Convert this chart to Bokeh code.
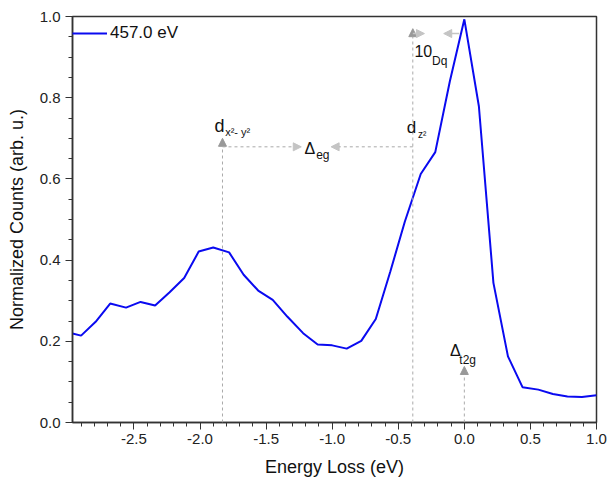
from bokeh.plotting import figure
from bokeh.models import (Range1d, SingleIntervalTicker, PrintfTickFormatter, Label,
                          Arrow, NormalHead, Legend, LegendItem)
from bokeh.embed import file_html
from bokeh.resources import INLINE

# Data
energy_loss = [-2.965, -2.90, -2.79, -2.68, -2.56, -2.45, -2.34, -2.23, -2.12, -2.01,
               -1.90, -1.78, -1.67, -1.56, -1.45, -1.34, -1.22, -1.11, -1.00, -0.89,
               -0.78, -0.67, -0.56, -0.45, -0.33, -0.22, -0.11, 0.00, 0.11, 0.22,
               0.33, 0.44, 0.56, 0.67, 0.78, 0.89, 1.00]
counts = [0.219, 0.214, 0.248, 0.293, 0.283, 0.297, 0.288, 0.321, 0.356, 0.421,
          0.431, 0.419, 0.364, 0.325, 0.302, 0.261, 0.220, 0.192, 0.190, 0.182,
          0.201, 0.255, 0.372, 0.495, 0.612, 0.666, 0.840, 0.993, 0.779, 0.344,
          0.163, 0.087, 0.081, 0.070, 0.064, 0.063, 0.067]
series_label = "457.0 eV"

# marker energies for annotations
e_dx2y2 = -1.83
e_dz2 = -0.39
e_t2g = 0.0

FONT = "Liberation Sans"
DASH_COL = "#aaaaaa"
HEAD_COL = "#999999"
LIGHT_COL = "#c4c4c4"

p = figure(width=607, height=481, output_backend="svg", toolbar_location=None,
           x_range=Range1d(-2.965, 1.0), y_range=Range1d(0.0, 1.0),
           min_border_left=72, min_border_right=11, min_border_top=16, min_border_bottom=59)
p.grid.visible = False
p.background_fill_color = "white"
p.outline_line_color = "#333333"
p.outline_line_width = 1.5

p.xaxis.ticker = SingleIntervalTicker(interval=0.5, num_minor_ticks=5)
p.yaxis.ticker = SingleIntervalTicker(interval=0.2, num_minor_ticks=4)
for ax in (p.xaxis, p.yaxis):
    ax.formatter = PrintfTickFormatter(format="%.1f")
    ax.axis_line_color = "#333333"
    ax.axis_line_width = 1.5
    ax.major_tick_line_color = "#333333"
    ax.minor_tick_line_color = "#333333"
    ax.major_tick_in = 0
    ax.major_tick_out = 7
    ax.minor_tick_in = 0
    ax.minor_tick_out = 4
    ax.major_label_text_font = FONT
    ax.major_label_text_font_size = "15px"
    ax.major_label_text_color = "#222222"
    ax.axis_label_text_font = FONT
    ax.axis_label_text_font_size = "18px"
    ax.axis_label_text_font_style = "normal"
    ax.axis_label_text_color = "#111111"
p.xaxis.axis_label = "Energy Loss (eV)"
p.yaxis.axis_label = "Normalized Counts (arb. u.)"
p.xaxis.major_label_standoff = 4
p.xaxis.axis_label_standoff = 10
p.yaxis.axis_label_standoff = 10

r = p.line(energy_loss, counts, line_color="#0a0af0", line_width=2)

legend = Legend(items=[LegendItem(label=series_label, renderers=[r])],
                location="top_left", border_line_color=None, background_fill_alpha=0,
                margin=0, padding=2, glyph_width=35, glyph_height=34, label_height=34,
                label_standoff=3, label_text_font=FONT, label_text_font_size="17px",
                label_text_color="#111111")
p.add_layout(legend)

def dashed_arrow(x0, y0, x1, y1, col=HEAD_COL, dash="3 3"):
    p.add_layout(Arrow(end=NormalHead(size=8, fill_color=col, line_color=col),
                       x_start=x0, y_start=y0, x_end=x1, y_end=y1,
                       line_color=DASH_COL, line_width=1, line_dash=dash))

# vertical markers
dashed_arrow(e_dx2y2, 0.0, e_dx2y2, 0.70)
dashed_arrow(e_dz2, 0.0, e_dz2, 0.97)
dashed_arrow(e_t2g, 0.0, e_t2g, 0.138)
# Delta eg arrows
dashed_arrow(e_dx2y2, 0.679, -1.234, 0.679, col=LIGHT_COL)
dashed_arrow(e_dz2, 0.679, -1.008, 0.679, col=LIGHT_COL)
# 10Dq arrows
p.add_layout(Arrow(end=NormalHead(size=8, fill_color=LIGHT_COL, line_color=LIGHT_COL),
                   x_start=e_dz2, y_start=0.958, x_end=-0.302, y_end=0.958,
                   line_color=LIGHT_COL, line_width=1.5))
p.add_layout(Arrow(end=NormalHead(size=8, fill_color=LIGHT_COL, line_color=LIGHT_COL),
                   x_start=-0.038, y_start=0.958, x_end=-0.156, y_end=0.958,
                   line_color=LIGHT_COL, line_width=1.5))

def lab(x, y, t, size):
    p.add_layout(Label(x=x, y=y, text=t, text_font=FONT, text_font_size=size,
                       text_color="#111111", text_baseline="alphabetic", text_align="left"))

lab(-1.890, 0.730, "d", "18px")
lab(-1.810, 0.716, "x²- y²", "11px")
lab(-1.209, 0.676, "Δ", "16px")
lab(-1.121, 0.660, "eg", "12px")
lab(-0.436, 0.726, "d", "17px")
lab(-0.350, 0.709, "z²", "10px")
lab(-0.378, 0.914, "10", "16px")
lab(-0.244, 0.890, "Dq", "12px")
lab(-0.108, 0.1775, "Δ", "16px")
lab(-0.038, 0.1545, "t2g", "12px")

open("out.html", "w").write(file_html(p, INLINE))
